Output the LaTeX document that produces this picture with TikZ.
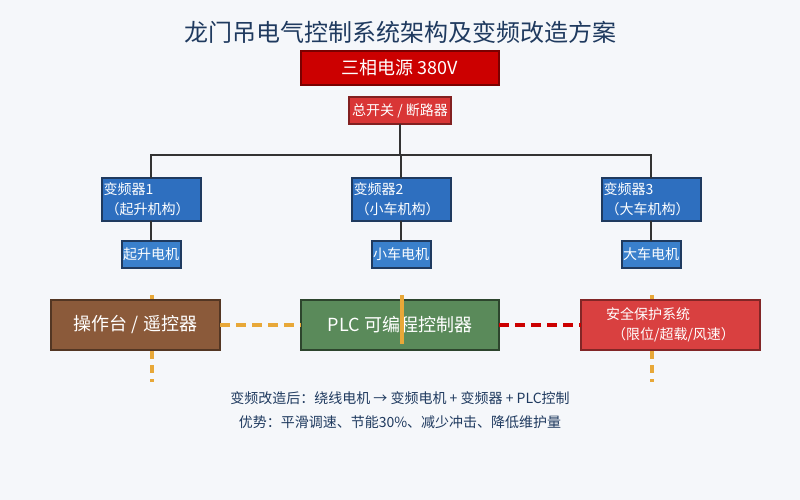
\documentclass[tikz,border=0pt]{standalone}
\usepackage{fontspec}
\setmainfont{Noto Sans CJK SC}
\usetikzlibrary{positioning}
\definecolor{bgc}{HTML}{F5F7FA}
\definecolor{navy}{HTML}{1F3A5F}
\definecolor{pwr}{HTML}{CC0000}
\definecolor{brk}{HTML}{D93636}
\definecolor{vfd}{HTML}{2E6FBF}
\definecolor{mot}{HTML}{3A80CC}
\definecolor{opc}{HTML}{8B5A3A}
\definecolor{plc}{HTML}{5A8A5A}
\definecolor{safe}{HTML}{D94040}
\definecolor{sig}{HTML}{E8A838}
\begin{document}
\begin{tikzpicture}[x=1pt, y=-1pt,
  box/.style = {
    draw, line width = 2pt, text = white,
    inner sep = 0pt, outer sep = 0pt,
  },
  wire/.style = {draw = black!80, line width = 2pt},
  link/.style = {line width = 4pt, dash pattern = on 10pt off 6pt}
]
  \fill[bgc] (0, 0) rectangle (800, 500);
  \useasboundingbox (0, 0) rectangle (800, 500);

  \node[text = navy, font = \fontsize{24}{28}\selectfont] (title) at (400, 32) {龙门吊电气控制系统架构及变频改造方案};

  % power and breaker
  \node[box, fill = pwr, draw = pwr!60!black, minimum width = 198pt, minimum height = 34pt,
    font = \fontsize{18}{22}\selectfont] (power) at (400, 68) {三相电源 380V};
  \node[box, fill = brk, draw = brk!60!black, minimum width = 102pt, minimum height = 27pt,
    font = \fontsize{14}{17}\selectfont] (breaker) at (400, 111) {\makebox[80pt]{总开关 / 断路器}};

  % drives and motors
  \foreach \i/\x/\name/\mname in {1/151/起升机构/起升电机, 2/401/小车机构/小车电机, 3/651/大车机构/大车电机} {
    \node[box, fill = vfd, draw = navy, minimum width = 99pt, minimum height = 43pt,
      font = \fontsize{14}{20}\selectfont, align = left] (vfd\i) at (\x, 199.5)
      {\makebox[95pt][l]{变频器\i}\\ \hspace{2pt}（\name）};
    \node[box, fill = mot, draw = navy, minimum width = 59pt, minimum height = 27pt,
      font = \fontsize{14}{17}\selectfont] (mot\i) at (\x, 254.5) {\makebox[50pt]{\mname}};
    \draw[wire] (vfd\i) -- (mot\i);
    \draw[wire] (breaker) |- (\x, 155) -- (vfd\i);
  }

  % signal lines behind the control boxes
  \draw[sig, line width = 4pt, dash pattern = on 8pt off 6pt] (152, 295) -- (152, 382);
  \draw[sig, line width = 4pt, dash pattern = on 8pt off 6pt] (652, 295) -- (652, 382);

  % control level
  \node[box, fill = opc, draw = opc!60!black, minimum width = 169pt, minimum height = 50pt,
    font = \fontsize{18}{22}\selectfont] (op) at (135.5, 325) {操作台 / 遥控器};
  \node[box, fill = plc, draw = plc!50!black, minimum width = 198pt, minimum height = 50pt,
    font = \fontsize{18}{22}\selectfont] (plc) at (400, 325) {PLC 可编程控制器};
  \node[box, fill = safe, draw = safe!60!black, minimum width = 179pt, minimum height = 50pt,
    font = \fontsize{14}{20}\selectfont, align = left] (safety) at (670.5, 325)
    {安全保护系统\\ \hspace{6pt}（限位/超载/风速）};
  \draw[sig, line width = 4pt] (402, 295) -- (402, 344);

  \draw[link, sig] (op) -- (plc);
  \draw[link, pwr] (plc) -- (safety);

  % notes
  \node[text = navy, font = \fontsize{14}{17}\selectfont] (note1) at (400, 398)
    {变频改造后：绕线电机 → 变频电机 + 变频器 + PLC控制};
  \node[text = navy, font = \fontsize{14}{17}\selectfont] (note2) at (400, 422)
    {优势：平滑调速、节能30\%、减少冲击、降低维护量};
\end{tikzpicture}
\end{document}
